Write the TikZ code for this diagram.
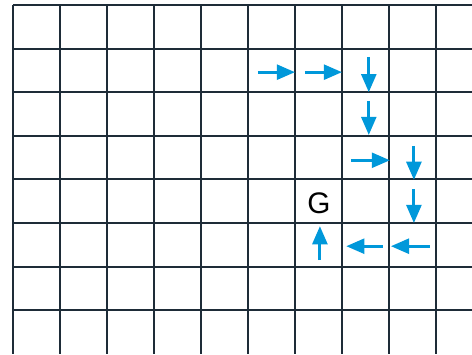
\documentclass[tikz,border=0pt]{standalone}
\usepackage{fontspec}
\setmainfont{Liberation Sans}
\usepackage{xcolor}
\usetikzlibrary{arrows.meta}
\definecolor{pfeilblau}{RGB}{0,152,218}
\definecolor{gitter}{RGB}{30,44,56}

\begin{document}
\begin{tikzpicture}[x=1cm, y=-0.928cm,
    zug/.style={-{Triangle[length=11pt,width=9pt]}, line width=1.8pt, draw=pfeilblau},
    linie/.style={draw=gitter, line width=1.2pt}]
    \useasboundingbox (-0.2766,-0.1147) rectangle (9.766,8.0046);
    % Gitter mit Strategie-Pfeilen zum Ziel G
    \foreach \i in {0,...,9} {
      \draw[linie] (\i,0) -- (\i,8.0046);
    }
    \foreach \j in {0,...,7} {
      \draw[linie] (0,\j) -- (9.766,\j);
    }
    \foreach \xa/\ya/\xb/\yb in {5.21/1.54/6.0/1.54, 6.21/1.54/7.0/1.54,
        7.57/1.19/7.57/2.0, 7.57/2.2/7.57/2.98, 7.19/3.56/8.02/3.56,
        8.53/3.23/8.53/4.01, 8.53/4.22/8.53/5.0, 8.87/5.53/8.04/5.53,
        7.87/5.53/7.09/5.53, 6.53/5.85/6.53/5.07} {
      \draw[zug] (\xa,\ya) -- (\xb,\yb);
    }
    \node[font=\fontsize{18}{18}\selectfont] (ziel) at (6.51,4.54) {G};
  \end{tikzpicture}
\end{document}
